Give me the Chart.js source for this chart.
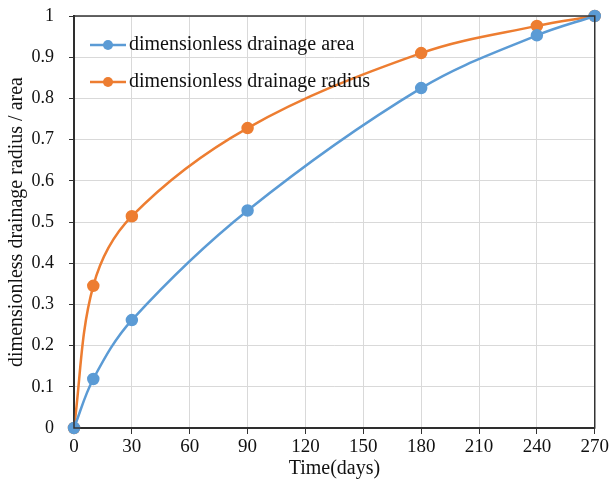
<!DOCTYPE html>
<html lang="en">
<head>
  <meta charset="UTF-8" />
  <title>Drainage radius / area</title>
  <script src="https://cdn.jsdelivr.net/npm/chart.js"></script>
  <style>
    html, body { margin: 0; padding: 0; background: white; }
    #wrap { width: 611px; height: 495px; }
  </style>
</head>
<body>
  <div id="wrap"><canvas id="chart"></canvas></div>

  <script>
    const days = [0, 10, 30, 90, 180, 240, 270];
    const areaValues = [0, 0.119, 0.262, 0.528, 0.825, 0.953, 1.0];
    const radiusValues = [0, 0.345, 0.514, 0.728, 0.910, 0.976, 1.0];
    const xTicks = [0, 30, 60, 90, 120, 150, 180, 210, 240, 270];
    const seriesNames = ['dimensionless drainage area', 'dimensionless drainage radius'];
    const seriesColors = ['#5B9BD5', '#ED7D31'];

    const serif = "'Liberation Serif', 'DejaVu Serif', serif";

    // legend drawn inside the plot, top left
    const insideLegend = {
      id: 'insideLegend',
      afterDatasetsDraw(chart) {
        const ctx = chart.ctx;
        const area = chart.chartArea;
        ctx.save();
        ctx.font = '20px ' + serif;
        ctx.textBaseline = 'middle';
        chart.data.datasets.forEach((ds, i) => {
          const y = area.top + 29 + i * 37;
          const x0 = area.left + 16;
          ctx.strokeStyle = ds.borderColor;
          ctx.lineWidth = 2.5;
          ctx.beginPath();
          ctx.moveTo(x0, y);
          ctx.lineTo(x0 + 36, y);
          ctx.stroke();
          ctx.fillStyle = ds.borderColor;
          ctx.beginPath();
          ctx.arc(x0 + 18, y, 5, 0, Math.PI * 2);
          ctx.fill();
          ctx.fillStyle = '#111';
          ctx.fillText(ds.label, x0 + 39, y);
        });
        ctx.restore();
      }
    };

    // dark box around the plot
    const plotBox = {
      id: 'plotBox',
      afterDatasetsDraw(chart) {
        const ctx = chart.ctx;
        const a = chart.chartArea;
        ctx.save();
        ctx.strokeStyle = '#333';
        ctx.lineWidth = 1.5;
        ctx.strokeRect(a.left, a.top, a.right - a.left, a.bottom - a.top);
        ctx.restore();
      }
    };

    const makeSet = (i, values) => ({
      label: seriesNames[i],
      data: days.map((d, k) => ({ x: d, y: values[k] })),
      borderColor: seriesColors[i],
      backgroundColor: seriesColors[i],
      borderWidth: 2.5,
      pointRadius: 5,
      pointHoverRadius: 5,
      tension: 0.35,
      clip: false
    });

    new Chart(document.getElementById('chart'), {
      type: 'line',
      data: {
        datasets: [makeSet(0, areaValues), makeSet(1, radiusValues)]
      },
      options: {
        responsive: true,
        maintainAspectRatio: false,
        animation: false,
        layout: { padding: { top: 16, right: 16, left: 1, bottom: 10 } },
        plugins: {
          legend: { display: false },
          tooltip: { enabled: false }
        },
        scales: {
          x: {
            type: 'linear',
            min: 0,
            max: 270,
            afterBuildTicks: axis => { axis.ticks = xTicks.map(v => ({ value: v })); },
            afterFit: axis => { axis.height = 57; },
            grid: { color: '#d9d9d9', lineWidth: 1, tickLength: 6, tickColor: '#333' },
            border: { color: '#222', width: 2 },
            ticks: { color: '#111', font: { family: serif, size: 19 }, padding: 2, maxRotation: 0 },
            title: { display: true, text: 'Time(days)', color: '#111', font: { family: serif, size: 20 }, padding: { top: 0 } }
          },
          y: {
            min: 0,
            max: 1,
            afterFit: axis => { axis.width = 73; axis.paddingTop = 0; },
            ticks: {
              stepSize: 0.1, color: '#111', font: { family: serif, size: 18 }, padding: 15,
              callback: v => String(+v.toFixed(1))
            },
            grid: { color: '#d9d9d9', lineWidth: 1, tickLength: 5, tickColor: '#333' },
            border: { color: '#222', width: 2 },
            title: { display: true, text: 'dimensionless drainage radius / area', color: '#111', font: { family: serif, size: 20 }, padding: { bottom: 1 } }
          }
        }
      },
      plugins: [plotBox, insideLegend]
    });
  </script>
</body>
</html>
